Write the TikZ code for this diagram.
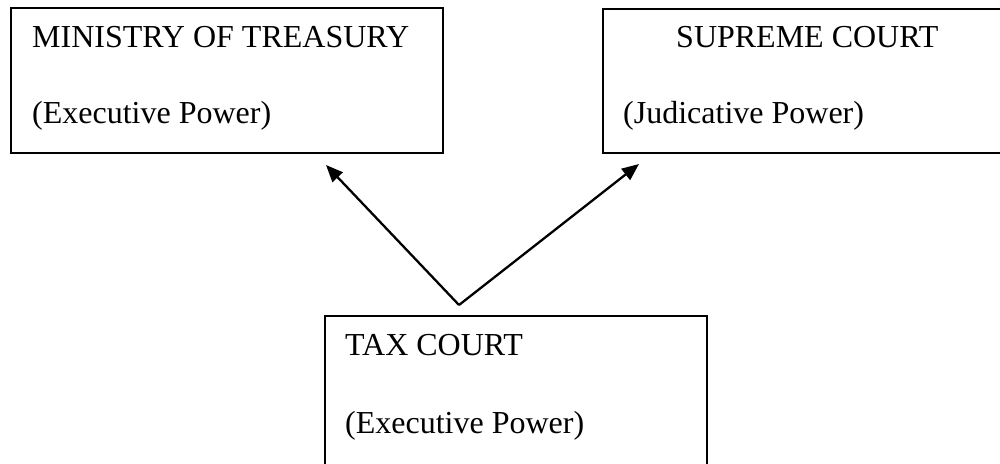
\documentclass[tikz,border=0pt]{standalone}
\usepackage{fontspec}
\setmainfont{Liberation Serif}
\usetikzlibrary{arrows.meta}
\begin{document}
\begin{tikzpicture}[x=1pt,y=-1pt,
  boxline/.style={draw=black,line width=1.4pt},
  lbl/.style={anchor=base west,inner sep=0pt,font=\fontsize{32}{36}\selectfont},
  conn/.style={line width=2.3pt,-{Triangle[length=17pt,width=14pt]}}]
\useasboundingbox (0,0) rectangle (1000,463);
\clip (0,0) rectangle (1000,463);
\fill[white] (0,0) rectangle (1000,463);
% boxes
\draw[boxline] (11,8) rectangle (443,153);
\draw[boxline] (603,9) rectangle (1010,153);
\draw[boxline] (325,316) rectangle (707,480);
% labels
\node[lbl] (mt) at (32,47) {MINISTRY OF TREASURY};
\node[lbl] (mtp) at (32,123) {(Executive Power)};
\node[lbl] (sc) at (676,47) {SUPREME COURT};
\node[lbl] (scp) at (623,123) {(Judicative Power)};
\node[lbl] (tc) at (345,355) {TAX COURT};
\node[lbl] (tcp) at (345,433) {(Executive Power)};
% connectors
\coordinate (apex) at (459,305);
\coordinate (ltip) at (326,165);
\coordinate (rtip) at (639,164);
\draw[conn] (apex) -- (ltip);
\draw[conn] (apex) -- (rtip);
\end{tikzpicture}
\end{document}
